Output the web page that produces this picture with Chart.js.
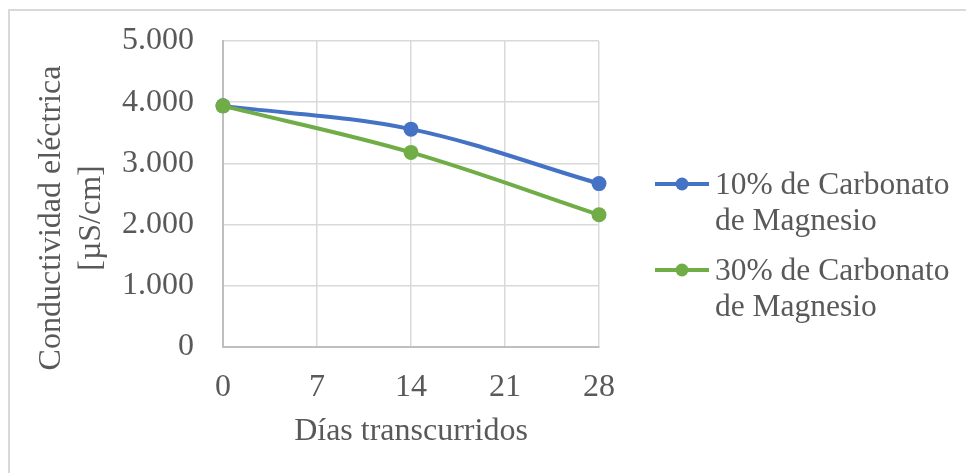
<!DOCTYPE html>
<html lang="es">
<head>
<meta charset="utf-8">
<title>Conductividad eléctrica</title>
<script src="https://cdn.jsdelivr.net/npm/chart.js@4/dist/chart.umd.min.js"></script>
<style>
  html, body { margin: 0; padding: 0; background: #ffffff; }
  #wrap { width: 966px; height: 473px; position: relative; }
  canvas { display: block; }
</style>
</head>
<body>
<div id="wrap"><canvas id="chart" width="966" height="473"></canvas></div>
<script>
// Días transcurridos
const days = [0, 14, 28];
// Conductividad eléctrica [µS/cm]
const mg10 = [3940, 3560, 2670];
const mg30 = [3940, 3180, 2160];
const seriesLabels = [
  ['10% de Carbonato', 'de Magnesio'],
  ['30% de Carbonato', 'de Magnesio']
];
const xTicks = [0, 7, 14, 21, 28];
const yTicks = [0, 1000, 2000, 3000, 4000, 5000];
const xTitle = 'Días transcurridos';
const yTitle = ['Conductividad eléctrica', '[µS/cm]'];

const BLUE = '#4472C4';
const GREEN = '#70AD47';
const TEXT = '#595959';
const GRID = '#d9d9d9';
const AXIS = '#bfbfbf';
const FONT = "'Liberation Serif', 'Times New Roman', serif";
const SIZE = 32;

Chart.defaults.font.family = FONT;
Chart.defaults.color = TEXT;

const toPoints = (vals) => days.map((d, i) => ({ x: d, y: vals[i] }));
const fmt = (v) => String(Math.round(v)).replace(/\B(?=(\d{3})+(?!\d))/g, '.');

// Outer frame, y-axis title and the legend, drawn on the chart canvas
const decorations = {
  id: 'decorations',
  beforeDraw(chart) {
    const ctx = chart.ctx;
    ctx.save();
    ctx.strokeStyle = GRID;
    ctx.lineWidth = 2;
    ctx.beginPath();
    ctx.moveTo(9, chart.height);
    ctx.lineTo(9, 10);
    ctx.lineTo(chart.width, 10);
    ctx.stroke();
    ctx.restore();
  },
  afterDraw(chart) {
    const ctx = chart.ctx;
    ctx.save();
    // y-axis title, two rotated lines
    ctx.fillStyle = TEXT;
    ctx.font = SIZE + 'px ' + FONT;
    ctx.textAlign = 'center';
    ctx.textBaseline = 'middle';
    const cy = 218;
    [52, 92].forEach((cx, i) => {
      ctx.save();
      ctx.translate(cx, cy);
      ctx.rotate(-Math.PI / 2);
      ctx.fillText(yTitle[i], 0, 0);
      ctx.restore();
    });
    // legend
    ctx.font = '31.5px ' + FONT;
    const items = chart.data.datasets;
    const markY = [184, 270];
    items.forEach((ds, i) => {
      const y = markY[i];
      ctx.strokeStyle = ds.borderColor;
      ctx.lineWidth = 4;
      ctx.beginPath();
      ctx.moveTo(655, y);
      ctx.lineTo(709, y);
      ctx.stroke();
      ctx.fillStyle = ds.borderColor;
      ctx.beginPath();
      ctx.arc(682, y, 6.5, 0, Math.PI * 2);
      ctx.fill();
      ctx.fillStyle = TEXT;
      ctx.textAlign = 'left';
      ctx.textBaseline = 'alphabetic';
      ds.legendLines.forEach((line, k) => {
        ctx.fillText(line, 715, y + 10 + k * 36);
      });
    });
    ctx.restore();
  }
};

new Chart(document.getElementById('chart'), {
  type: 'line',
  data: {
    datasets: [
      {
        label: seriesLabels[0].join(' '),
        legendLines: seriesLabels[0],
        data: toPoints(mg10),
        borderColor: BLUE,
        backgroundColor: BLUE,
        borderWidth: 4,
        pointRadius: 7.5,
        pointBorderWidth: 0,
        pointBackgroundColor: BLUE,
        tension: 0.35,
        order: 1
      },
      {
        label: seriesLabels[1].join(' '),
        legendLines: seriesLabels[1],
        data: toPoints(mg30),
        borderColor: GREEN,
        backgroundColor: GREEN,
        borderWidth: 4,
        pointRadius: 7.5,
        pointBorderWidth: 0,
        pointBackgroundColor: GREEN,
        tension: 0.35,
        order: 0
      }
    ]
  },
  options: {
    responsive: false,
    devicePixelRatio: 1,
    animation: false,
    clip: false,
    layout: { padding: { left: 0, top: 41, right: 367, bottom: 0 } },
    plugins: {
      legend: { display: false },
      tooltip: { enabled: false }
    },
    scales: {
      x: {
        type: 'linear',
        min: 0,
        max: 28,
        afterBuildTicks: (s) => { s.ticks = xTicks.map(v => ({ value: v })); },
        afterFit: (s) => { s.height = 126; },
        grid: { color: GRID, lineWidth: 1.5, drawTicks: false },
        border: { color: AXIS, width: 2 },
        ticks: { font: { size: SIZE }, color: TEXT, padding: 21, maxRotation: 0 },
        title: { display: true, text: xTitle, font: { size: SIZE }, color: TEXT, padding: { top: 0, bottom: 22 } }
      },
      y: {
        min: 0,
        max: 5000,
        afterBuildTicks: (s) => { s.ticks = yTicks.map(v => ({ value: v })); },
        afterFit: (s) => { s.width = 223; s.paddingTop = 0; s.paddingBottom = 0; },
        grid: { color: GRID, lineWidth: 1.5, drawTicks: false },
        border: { color: AXIS, width: 2 },
        ticks: { font: { size: SIZE }, color: TEXT, padding: 29, callback: (v) => fmt(v) }
      }
    }
  },
  plugins: [decorations]
});
</script>
</body>
</html>
